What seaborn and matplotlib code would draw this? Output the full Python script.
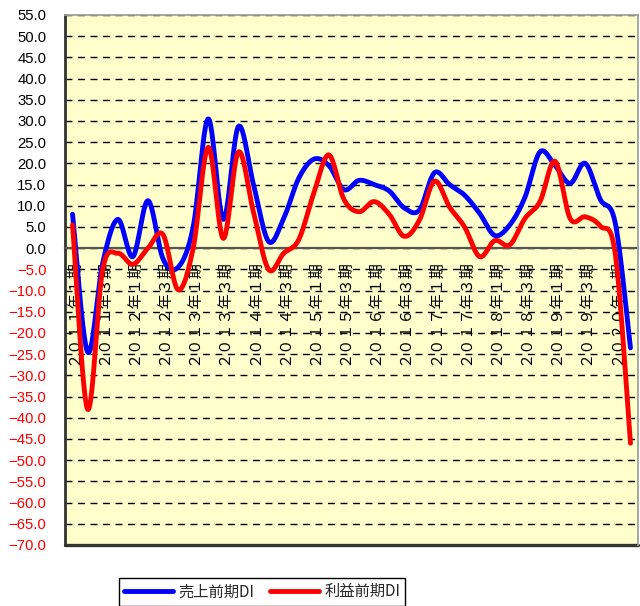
import numpy as np
import pandas as pd
import matplotlib
matplotlib.use("Agg")
import matplotlib.pyplot as plt
import seaborn as sns

# ---------------- data ----------------
periods = [
    "２０１１年１期", "２０１１年２期", "２０１１年３期", "２０１１年４期",
    "２０１２年１期", "２０１２年２期", "２０１２年３期", "２０１２年４期",
    "２０１３年１期", "２０１３年２期", "２０１３年３期", "２０１３年４期",
    "２０１４年１期", "２０１４年２期", "２０１４年３期", "２０１４年４期",
    "２０１５年１期", "２０１５年２期", "２０１５年３期", "２０１５年４期",
    "２０１６年１期", "２０１６年２期", "２０１６年３期", "２０１６年４期",
    "２０１７年１期", "２０１７年２期", "２０１７年３期", "２０１７年４期",
    "２０１８年１期", "２０１８年２期", "２０１８年３期", "２０１８年４期",
    "２０１９年１期", "２０１９年２期", "２０１９年３期", "２０１９年４期",
    "２０２０年１期", "２０２０年２期",
]
sales_di = [8.0, -24.5, -3.5, 6.8, -2.0, 11.2, -2.5, -4.5, 5.0, 30.5,
            6.8, 28.7, 15.0, 1.6, 7.0, 16.5, 21.0, 19.5, 13.8, 16.0,
            15.0, 13.5, 9.5, 9.0, 17.8, 15.0, 12.5, 8.2, 3.0, 5.5,
            12.0, 22.7, 19.5, 15.3, 20.0, 11.5, 5.8, -23.5]
profit_di = [5.5, -38.0, -5.0, -1.2, -3.8, 0.0, 3.2, -9.8, 0.0, 23.8,
             2.3, 22.7, 8.5, -5.0, -1.2, 2.0, 13.0, 22.0, 11.5, 8.6,
             11.0, 8.0, 2.8, 6.6, 15.8, 9.7, 5.0, -2.0, 1.8, 0.8,
             7.0, 11.0, 20.5, 7.0, 7.4, 5.2, -1.5, -46.0]
series_names = ["売上前期DI", "利益前期DI"]
series_colors = ["#0000FF", "#FF0000"]
y_ticks = list(range(-70, 56, 5))


def smooth(xs, ys, n=24):
    """Excel-like smoothed line (Catmull-Rom as cubic Bezier)."""
    pts = np.column_stack([xs, ys]).astype(float)
    P = np.vstack([pts[0], pts, pts[-1]])
    out = []
    m = len(pts)
    for i in range(m - 1):
        p0, p1, p2, p3 = P[i], P[i + 1], P[i + 2], P[i + 3]
        c1 = p1 + (p2 - p0) / 6.0
        c2 = p2 - (p3 - p1) / 6.0
        t = np.linspace(0, 1, n, endpoint=(i == m - 2))[:, None]
        b = ((1 - t) ** 3) * p1 + 3 * ((1 - t) ** 2) * t * c1 \
            + 3 * (1 - t) * t ** 2 * c2 + t ** 3 * p2
        out.append(b)
    return np.vstack(out)


sns.set_style("white")
plt.rcParams["font.family"] = ["Noto Sans CJK JP", "DejaVu Sans"]

W, H = 640, 606
fig = plt.figure(figsize=(W / 100, H / 100), dpi=100)
ax = fig.add_axes([65 / W, 1 - 545 / H, 573 / W, 530 / H])
ax.set_facecolor("#FFFFCC")

x_idx = np.arange(len(periods))
for name, vals, col in zip(series_names, [sales_di, profit_di], series_colors):
    sm = smooth(x_idx, vals)
    df = pd.DataFrame({"x": sm[:, 0], "y": sm[:, 1]})
    sns.lineplot(data=df, x="x", y="y", color=col, lw=3.3, sort=False,
                 estimator=None, ax=ax, label=name, zorder=5,
                 solid_capstyle="round")

ax.set_xlim(-0.5, len(periods) - 0.5)
ax.set_ylim(-70, 55)

# y axis
ax.set_yticks(y_ticks)
ax.set_yticklabels([f"{v:.1f}".replace("-", "−") for v in y_ticks],
                   fontfamily="Liberation Sans", fontsize=10.7)
for lab, v in zip(ax.get_yticklabels(), y_ticks):
    lab.set_color("#FF0000" if v < 0 else "#000000")
ax.tick_params(axis="y", length=0, pad=13.5)
ax.yaxis.grid(True, color="black", lw=1.0, linestyle=(0, (5, 4)))
ax.set_axisbelow(True)

# x axis on zero line
ax.spines["bottom"].set_position(("data", 0))
ax.spines["bottom"].set_color("#555555")
ax.spines["bottom"].set_linewidth(1.6)
ax.set_xticks(np.arange(-0.5, len(periods), 1.0))
ax.set_xticklabels([])
ax.tick_params(axis="x", which="major", direction="in", length=4.5,
               width=1.0, color="#555555")
ax.set_xticks(x_idx[::2], minor=True)
ax.set_xticklabels(periods[::2], minor=True, rotation=90,
                   fontsize=10.9, color="#000000")
ax.tick_params(axis="x", which="minor", length=0, pad=8)
ax.set_xlabel("")
ax.set_ylabel("")

ax.spines["left"].set_color("#333333")
ax.spines["left"].set_linewidth(2.0)
for s in ["top", "right"]:
    ax.spines[s].set_color("#A0A0A0")
    ax.spines[s].set_linewidth(1.3)
    ax.spines[s].set_zorder(3)
ax.axhline(-70, color="#333333", lw=2.4, clip_on=False, zorder=3)

# legend
handles, labels = ax.get_legend_handles_labels()
ax.get_legend().remove()
for h in handles:
    h.set_linewidth(3.5)
leg = fig.legend(handles, labels, loc="upper left",
                 bbox_to_anchor=(119 / W, 1 - 578 / H), ncol=2,
                 frameon=True, fancybox=False, framealpha=1,
                 edgecolor="black", fontsize=11, handlelength=3.2,
                 handletextpad=0.35, columnspacing=1.0, borderpad=0.35,
                 borderaxespad=0)
leg.get_frame().set_linewidth(1.0)

fig.savefig("out.png", dpi=100, facecolor="white")
